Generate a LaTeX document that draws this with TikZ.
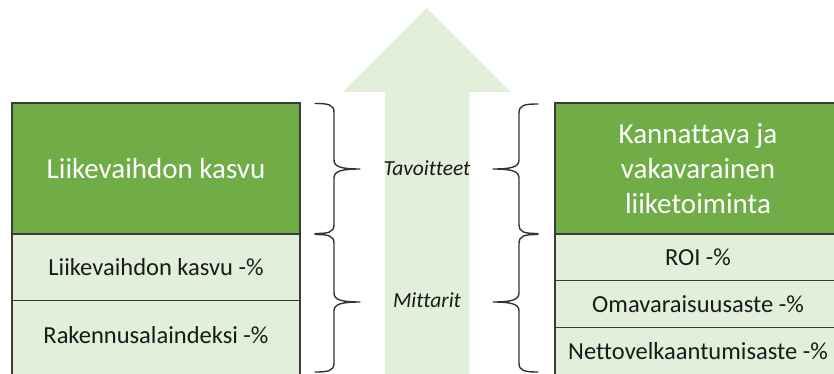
\documentclass[tikz,border=0pt]{standalone}
\usepackage{fontspec}
\setmainfont{Carlito}[Ligatures=NoCommon]
\definecolor{goalgreen}{HTML}{70AD47}
\definecolor{palegreen}{HTML}{E2EFDA}
\definecolor{edgegray}{HTML}{3A3A3A}
\definecolor{inkgray}{HTML}{1A1A1A}

% curly brace: end x, body x, tip x, top y, tip y, bottom y
\newcommand{\curlybrace}[6]{%
  \draw[bracestyle]
    (#1,#4) .. controls ({#2+0.3*(#1-#2)},#4) and (#2,{#4+1}) .. (#2,{#4+9})
    -- (#2,{#5-9}) .. controls (#2,{#5-2}) and ({#2+0.3*(#3-#2)},#5) .. (#3,#5)
    (#3,#5) .. controls ({#2+0.3*(#3-#2)},#5) and (#2,{#5+2}) .. (#2,{#5+9})
    -- (#2,{#6-9}) .. controls (#2,{#6-1}) and ({#2+0.3*(#1-#2)},#6) .. (#1,#6);}

\begin{document}
\begin{tikzpicture}[x=1pt,y=-1pt,
  headbox/.style={draw=edgegray, line width=1.4pt, fill=goalgreen, text=white,
    inner sep=0pt, align=center,
    font=\fontsize{29}{35}\selectfont},
  rowbox/.style={draw=edgegray, line width=1.4pt, fill=palegreen, text=inkgray,
    inner sep=0pt, font=\fontsize{24.5}{29}\selectfont},
  rowtext/.style={text=inkgray, inner sep=0pt, font=\fontsize{24.5}{29}\selectfont},
  tag/.style={text=inkgray, inner sep=0pt, font=\fontsize{21.5}{25}\selectfont\itshape},
  bracestyle/.style={draw=black!80, line width=1.4pt, line join=round, line cap=round}]
\useasboundingbox (0,0) rectangle (834,374);
\clip (0,0) rectangle (834,374);

% upward arrow in the background
\fill[palegreen] (385,380) -- (385,92) -- (342.7,92) -- (426.7,8)
  -- (510.7,92) -- (469.3,92) -- (469.3,380) -- cycle;

% left column
\node[headbox, minimum width=288, minimum height=131] (lhead) at (156,168.5) {Liikevaihdon kasvu};
\node[rowbox, minimum width=288, minimum height=66.7] (lrow1) at (156,267.35) {Liikevaihdon kasvu -\%};
\node[rowbox, minimum width=288, minimum height=80] (lrow2) at (156,340.7) {};
\node[rowtext] (lrow2t) at (156,335) {Rakennusalaindeksi -\%};

% right column
\node[headbox, minimum width=286, minimum height=131] (rhead) at (698,168.5)
  {Kannattava ja\\vakavarainen\\liiketoiminta};
\node[rowbox, minimum width=286, minimum height=46.7] (rrow1) at (698,257.35) {ROI -\%};
\node[rowbox, minimum width=286, minimum height=46.6] (rrow2) at (698,304) {Omavaraisuusaste -\%};
\node[rowbox, minimum width=286, minimum height=60] (rrow3) at (698,357.3) {};
\node[rowtext] (rrow3t) at (698,350.7) {Nettovelkaantumisaste -\%};

% braces on both sides of the arrow
\curlybrace{315}{334}{360}{103.5}{169}{233.5}
\curlybrace{315}{334}{360}{234.5}{302}{372}
\curlybrace{538}{519}{493}{104}{169}{233.5}
\curlybrace{538}{519}{493}{234.5}{302}{372}

% labels on the arrow
\node[tag] (goals) at (427,168) {Tavoitteet};
\node[tag] (measures) at (427,300) {Mittarit};
\end{tikzpicture}
\end{document}
